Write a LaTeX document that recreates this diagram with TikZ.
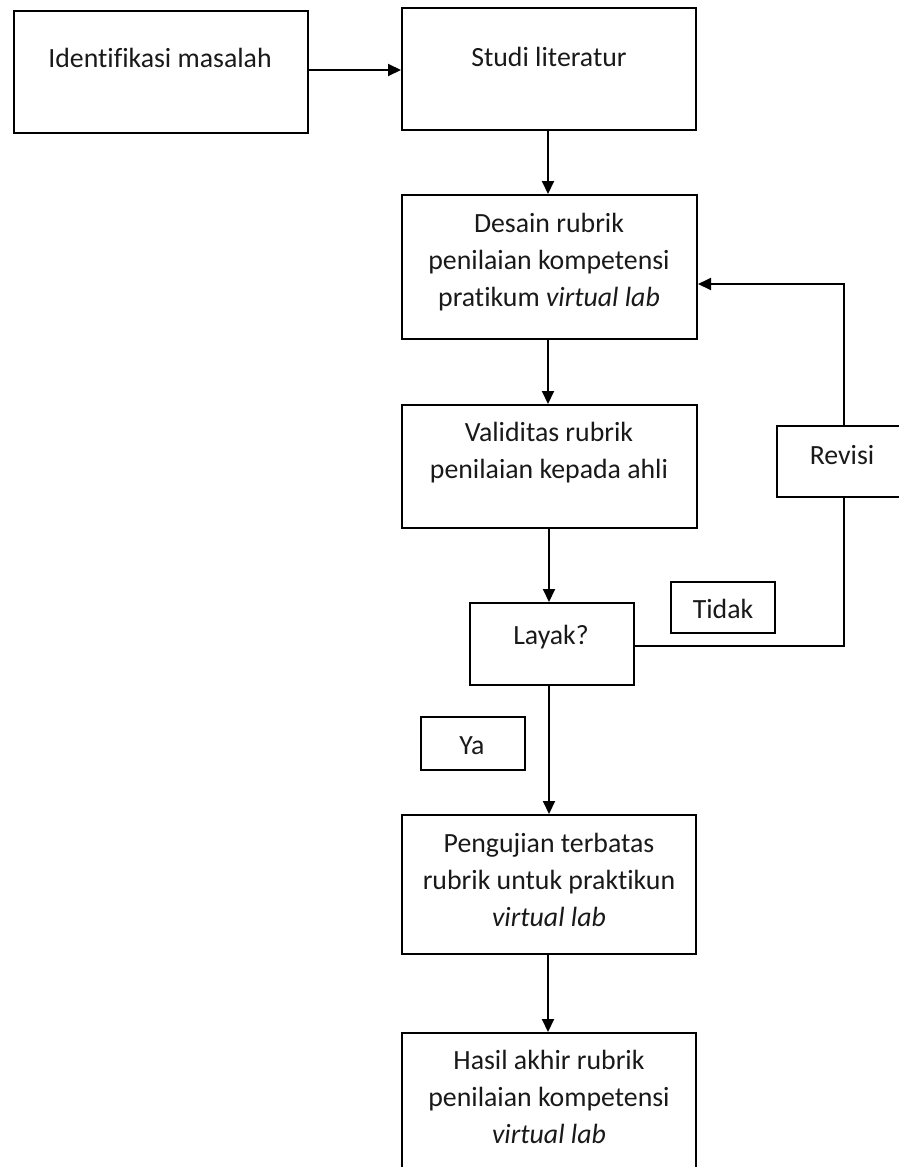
\documentclass[tikz,border=0pt]{standalone}
\usepackage{fontspec}
\setmainfont[Ligatures={NoCommon}]{Carlito}
\usetikzlibrary{arrows.meta,calc}
\begin{document}
\begin{tikzpicture}[x=1pt,y=-1pt,
  box/.style={draw=black,line width=2pt,inner sep=0pt,anchor=north west},
  txt/.style={inner sep=0pt,align=center,anchor=north,text=black!90,
    font=\fontsize{27.8}{37}\selectfont},
  conn/.style={draw=black,line width=2pt},
  arr/.style={conn,-{Triangle[length=13pt,width=12pt]}}]
\useasboundingbox (0,0) rectangle (899,1167);
\clip (0,0) rectangle (899,1167);
% boxes
\node[box,minimum width=294pt,minimum height=122pt] (ident) at (13,10) {};
\node[box,minimum width=294pt,minimum height=122pt] (studi) at (401,7) {};
\node[box,minimum width=295pt,minimum height=144pt] (desain) at (401,194) {};
\node[box,minimum width=295pt,minimum height=123pt] (valid) at (401,404) {};
\node[box,minimum width=164pt,minimum height=82pt] (layak) at (469,602) {};
\node[box,minimum width=136pt,minimum height=71pt] (revisi) at (776,425) {};
\node[box,minimum width=104pt,minimum height=51pt] (tidak) at (670,581) {};
\node[box,minimum width=104pt,minimum height=53pt] (ya) at (420,716) {};
\node[box,minimum width=294pt,minimum height=139pt] (uji) at (401,814) {};
\node[box,minimum width=294pt,minimum height=160pt] (hasil) at (401,1032) {};
% texts
\newcommand{\fs}{\rule{0pt}{22pt}}
\node[txt] (identT) at (160,45) {\fs Identifikasi masalah};
\node[txt] (studiT) at (549,44) {\fs Studi literatur};
\node[txt] (desainT) at (549,210) {\fs Desain rubrik\\penilaian kompetensi\\pratikum \textit{virtual lab}};
\node[txt] (validT) at (549,419) {\fs Validitas rubrik\\penilaian kepada ahli};
\node[txt] (layakT) at (551,622) {\fs Layak?};
\node[txt] (revisiT) at (842,442) {\fs Revisi};
\node[txt] (tidakT) at (723,596) {\fs Tidak};
\node[txt] (yaT) at (472,732) {\fs Ya};
\node[txt] (ujiT) at (549,830) {\fs Pengujian terbatas\\rubrik untuk praktikun\\\textit{virtual lab}};
\node[txt] (hasilT) at (549,1047) {\fs Hasil akhir rubrik\\penilaian kompetensi\\\textit{virtual lab}};
% connectors
\coordinate (a1) at (ident.east |- 0,70);
\draw[arr] (a1) -- (a1 -| studi.west);
\coordinate (s1) at (548,0);
\draw[arr] (s1 |- studi.south) -- (s1 |- desain.north);
\draw[arr] (s1 |- desain.south) -- (s1 |- valid.north);
\coordinate (s2) at (549,0);
\draw[arr] (s2 |- valid.south) -- (s2 |- layak.north);
\draw[arr] (s2 |- layak.south) -- (s2 |- uji.north);
\draw[arr] (s1 |- uji.south) -- (s1 |- hasil.north);
\coordinate (l1) at (layak.east |- 0,646);
\coordinate (r1) at (844,646);
\draw[conn] (l1) -- (r1) -- (r1 |- revisi.south);
\coordinate (r2) at (844,284);
\draw[arr] (r2 |- revisi.north) -- (r2) -- (r2 -| desain.east);
\end{tikzpicture}
\end{document}
